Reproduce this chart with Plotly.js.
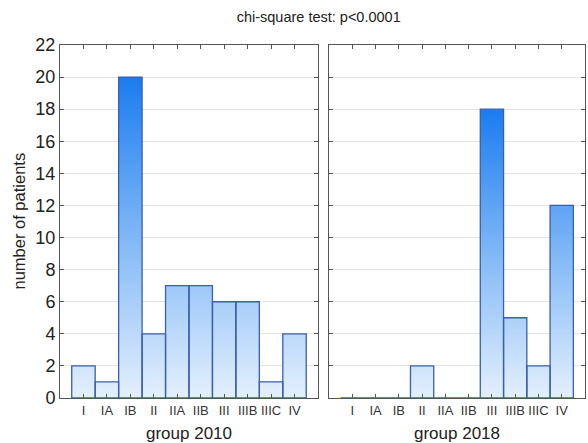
<!DOCTYPE html>
<html>
<head>
<meta charset="utf-8">
<script src="https://cdn.plot.ly/plotly-3.0.1.min.js"></script>
<style>html,body{margin:0;padding:0;background:#fff;}#chart{width:588px;height:443px;}</style>
</head>
<body>
<div id="chart"></div>
<script>
const categories = ["I", "IA", "IB", "II", "IIA", "IIB", "III", "IIIB", "IIIC", "IV"];
const group2010 = [2, 1, 20, 4, 7, 7, 6, 6, 1, 4];
const group2018 = [0, 0, 0, 2, 0, 0, 18, 5, 2, 12];
const yTicks = [0, 2, 4, 6, 8, 10, 12, 14, 16, 18, 20, 22];

const REG = 'Liberation Sans, Arial, sans-serif';

function barPolys(values) {
  const xs = [], ys = [];
  values.forEach((v, i) => {
    xs.push(i - 0.5, i - 0.5, i + 0.5, i + 0.5, i - 0.5, null);
    ys.push(0, v, v, 0, 0, null);
  });
  return {xs, ys};
}

function barTrace(values, xa, ya) {
  const p = barPolys(values);
  return {
    type: 'scatter', mode: 'lines', x: p.xs, y: p.ys,
    xaxis: xa, yaxis: ya, fill: 'toself', connectgaps: false,
    line: {color: '#3a5fae', width: 1.3},
    fillgradient: {type: 'vertical', start: 0, stop: Math.max(...values),
      colorscale: [[0, '#e4f0fd'], [0.5, '#80b8f6'], [1, '#1b7cf0']]},
    hoverinfo: 'skip', showlegend: false
  };
}

const axisCommon = {
  showline: true, linecolor: '#555', linewidth: 1, mirror: 'allticks',
  ticks: 'inside', ticklen: 4, tickcolor: '#555', zeroline: false
};
const xCommon = Object.assign({}, axisCommon, {
  range: [-1, 10], tickmode: 'array', tickangle: 0,
  tickvals: categories.map((c, i) => i), ticktext: categories,
  showgrid: false, tickfont: {family: REG, size: 13, color: '#333'}
});
const yCommon = Object.assign({}, axisCommon, {
  range: [0, 22], tickmode: 'array', tickvals: yTicks,
  showgrid: true, gridcolor: '#e3e3e3', gridwidth: 1
});

const layout = {
  width: 588, height: 443,
  margin: {l: 60, r: 3, t: 45, b: 45},
  paper_bgcolor: '#fff', plot_bgcolor: '#fff',
  font: {family: REG, color: '#222'},
  title: {text: 'chi-square test: p<0.0001', x: 0.542, xanchor: 'center', y: 0.962, yanchor: 'middle',
    font: {family: REG, size: 14.5, color: '#222'}},
  xaxis: Object.assign({}, xCommon, {domain: [0, 0.4914], anchor: 'y',
    title: {text: 'group 2010', font: {family: REG, size: 17, color: '#222'}, standoff: 10}}),
  xaxis2: Object.assign({}, xCommon, {domain: [0.5124, 1], anchor: 'y2',
    title: {text: 'group 2018', font: {family: REG, size: 17, color: '#222'}, standoff: 10}}),
  yaxis: Object.assign({}, yCommon, {anchor: 'x',
    tickfont: {family: REG, size: 18, color: '#222'}}),
  yaxis2: Object.assign({}, yCommon, {anchor: 'x2', showticklabels: false}),
  annotations: [{
    text: 'number of patients', textangle: -90, showarrow: false,
    xref: 'paper', yref: 'paper', x: -0.08, y: 0.5, xanchor: 'center', yanchor: 'middle',
    font: {family: REG, size: 16.5, color: '#222'}
  }]
};

Plotly.newPlot('chart', [barTrace(group2010, 'x', 'y'), barTrace(group2018, 'x2', 'y2')], layout,
  {displayModeBar: false, staticPlot: true});
</script>
</body>
</html>
